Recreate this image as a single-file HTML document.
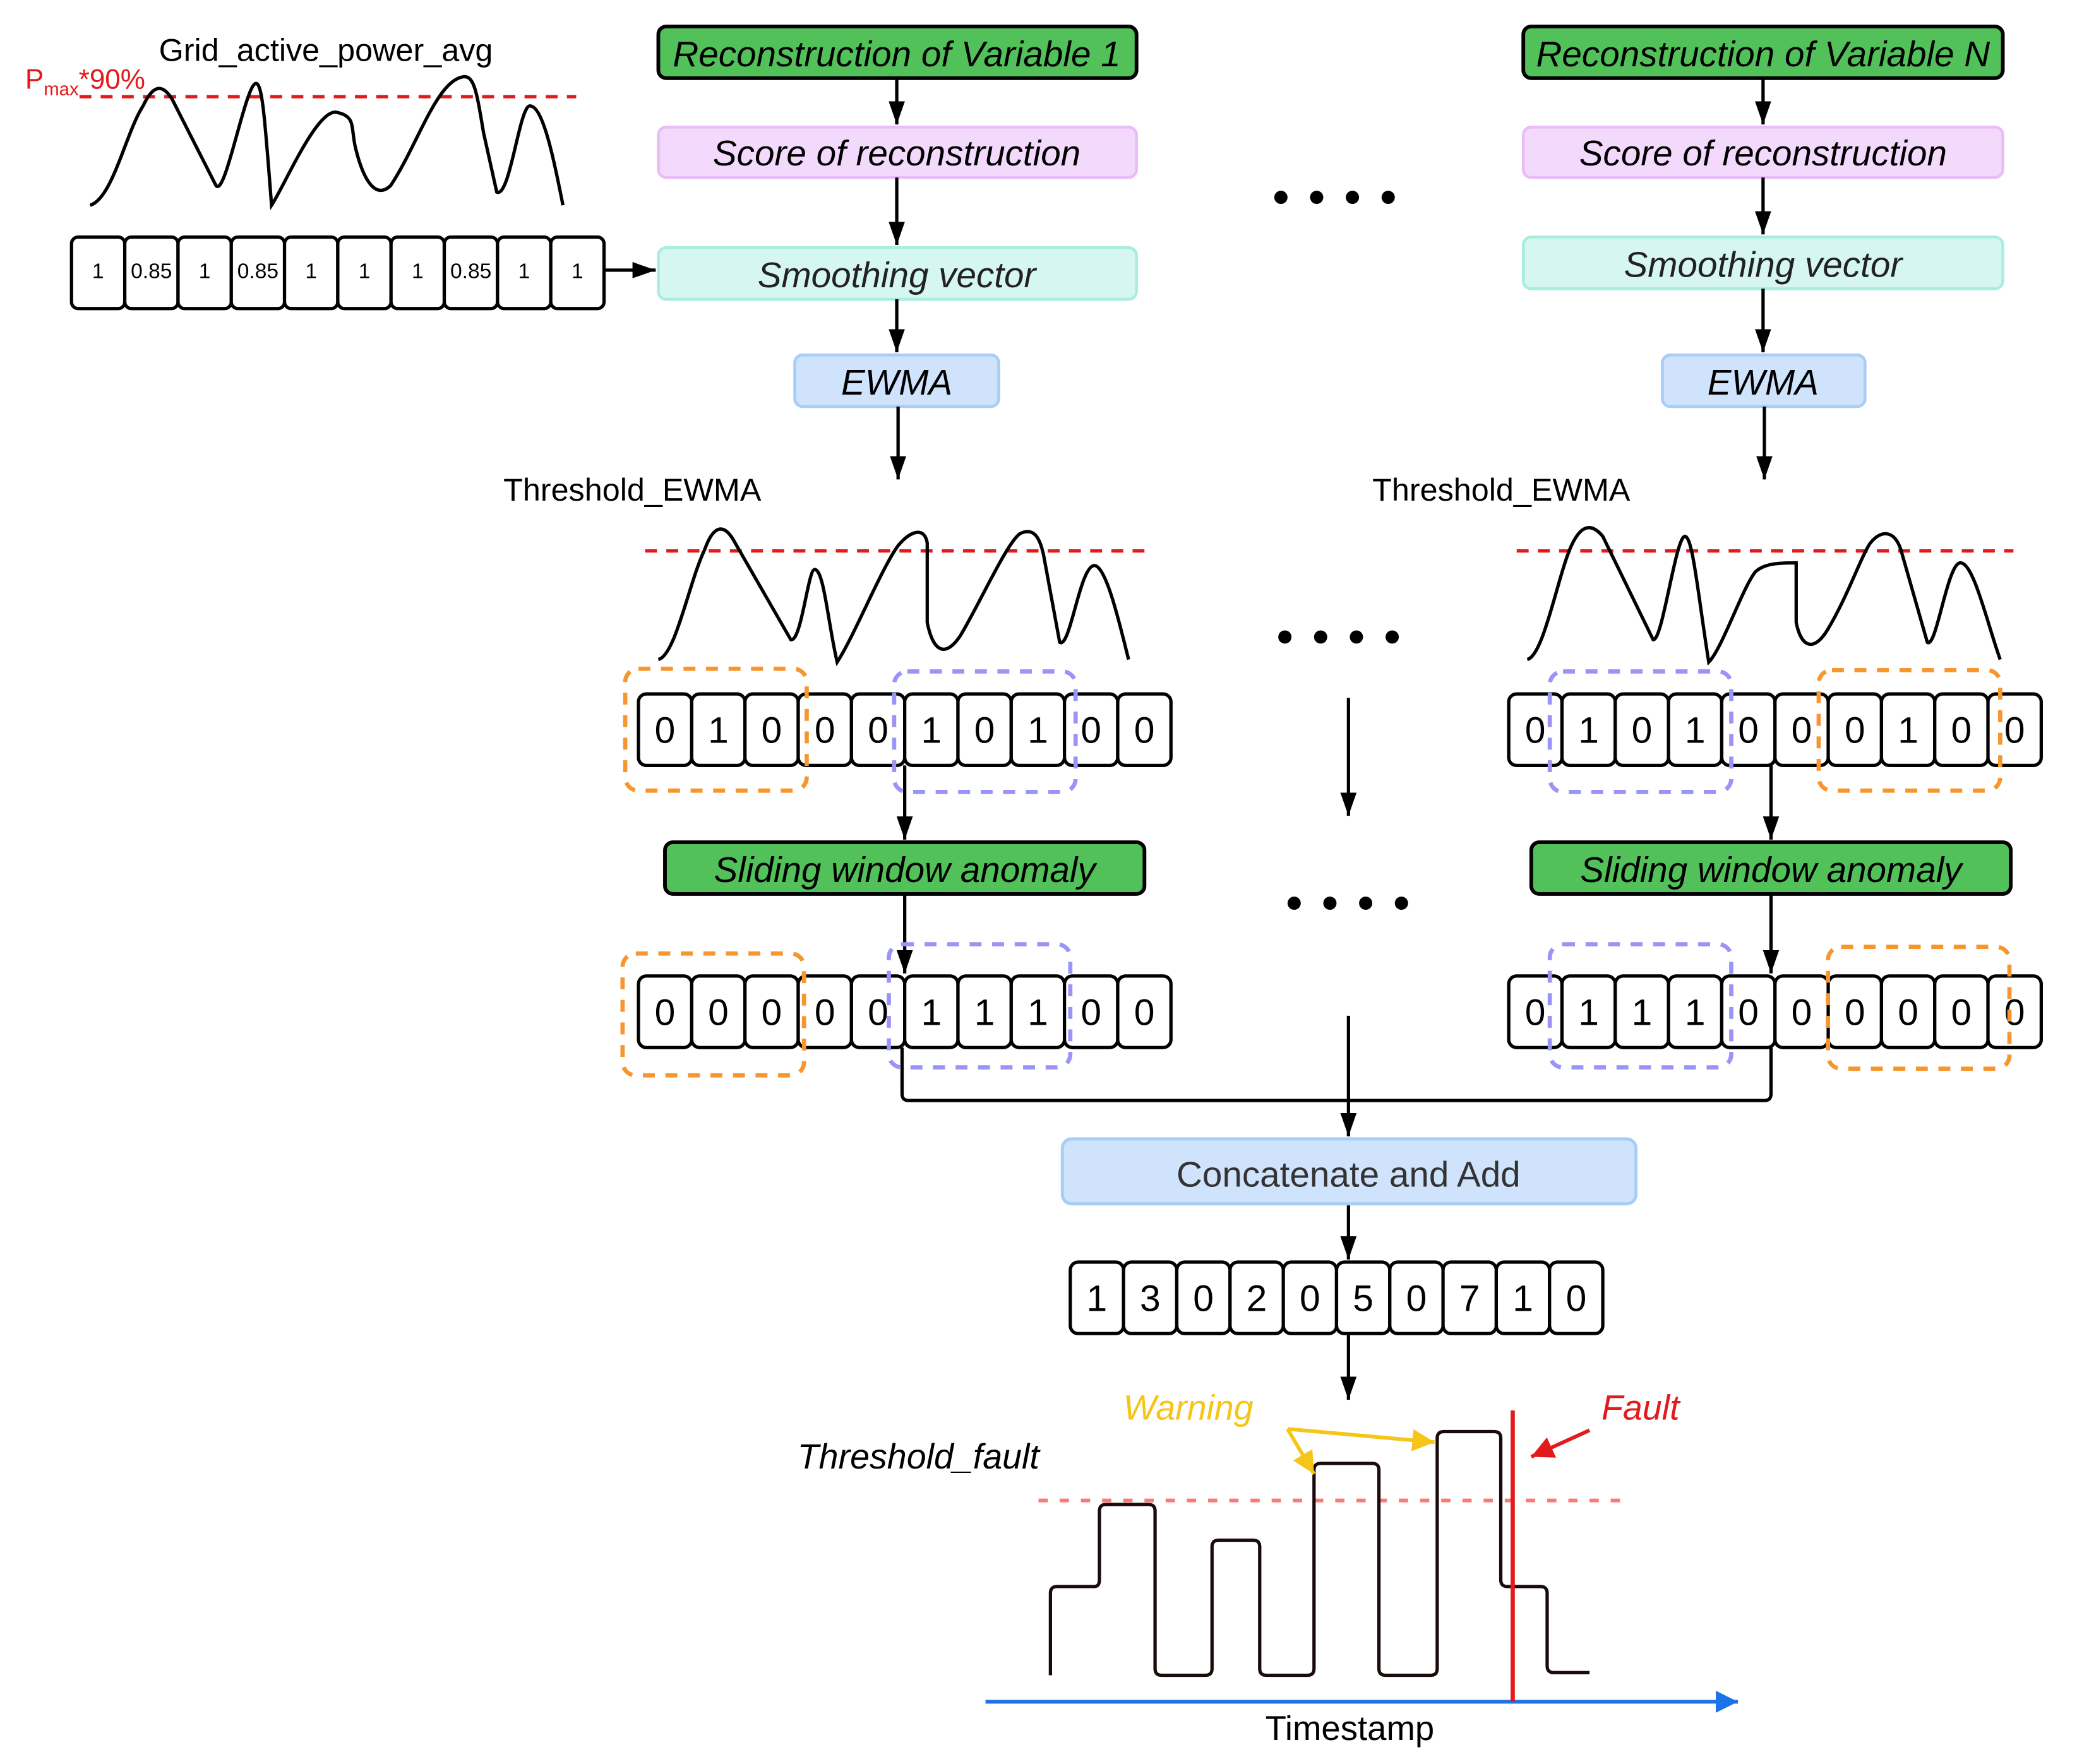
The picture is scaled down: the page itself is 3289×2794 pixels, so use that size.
<!DOCTYPE html>
<html><head><meta charset="utf-8"><style>html,body{margin:0;padding:0;background:#fff}svg{display:block}</style></head>
<body>
<svg xmlns="http://www.w3.org/2000/svg" width="3289" height="2794" viewBox="0 0 1568 1332" preserveAspectRatio="none" font-family="Liberation Sans, sans-serif">
<defs>
<marker id="a" viewBox="0 0 10 10" refX="10" refY="5" markerWidth="7" markerHeight="7" orient="auto" markerUnits="strokeWidth"><path d="M0,1.5 L10,5 L0,8.5 z" fill="#000"/></marker>
<marker id="y" viewBox="0 0 10 10" refX="10" refY="5" markerWidth="6" markerHeight="6" orient="auto" markerUnits="strokeWidth"><path d="M0,0 L10,5 L0,10 z" fill="#f5c518"/></marker>
<marker id="r" viewBox="0 0 10 10" refX="10" refY="5" markerWidth="6" markerHeight="6" orient="auto" markerUnits="strokeWidth"><path d="M0,0 L10,5 L0,10 z" fill="#e31a1c"/></marker>
<marker id="b" viewBox="0 0 10 10" refX="10" refY="5" markerWidth="6" markerHeight="6" orient="auto" markerUnits="strokeWidth"><path d="M0,0 L10,5 L0,10 z" fill="#1a73e8"/></marker>
</defs>
<rect width="1568" height="1332" fill="#fff"/>

<!-- Top-left chart -->
<text x="246" y="46" font-size="24" text-anchor="middle">Grid_active_power_avg</text>
<text x="19" y="67" font-size="21" fill="#e31a1c">P<tspan font-size="14" dy="5">max</tspan><tspan dy="-5">*90%</tspan></text>
<line x1="60" y1="73" x2="435" y2="73" stroke="#e31a1c" stroke-width="2.5" stroke-dasharray="9,7"/>
<path d="M68,155 C85,150 95,100 108,80 C115,65 122,62 130,75 L163,140 C170,150 185,65 193,63 C198,62 200,90 205,155 C215,140 240,80 255,85 C268,88 265,95 268,110 C275,140 285,150 295,140 C315,110 330,60 350,58 C358,57 360,70 365,100 L375,145 C385,150 392,80 400,80 C410,80 418,120 425,155" fill="none" stroke="#000" stroke-width="2.5"/>
<g stroke="#000" stroke-width="2.5" fill="#fff">
<rect x="54" y="179" width="40.2" height="54" rx="5"/><rect x="94.2" y="179" width="40.2" height="54" rx="5"/><rect x="134.4" y="179" width="40.2" height="54" rx="5"/><rect x="174.6" y="179" width="40.2" height="54" rx="5"/><rect x="214.8" y="179" width="40.2" height="54" rx="5"/><rect x="255" y="179" width="40.2" height="54" rx="5"/><rect x="295.2" y="179" width="40.2" height="54" rx="5"/><rect x="335.4" y="179" width="40.2" height="54" rx="5"/><rect x="375.6" y="179" width="40.2" height="54" rx="5"/><rect x="415.8" y="179" width="40.2" height="54" rx="5"/>
</g>
<g font-size="16" text-anchor="middle">
<text x="74" y="210">1</text><text x="114.3" y="210">0.85</text><text x="154.5" y="210">1</text><text x="194.7" y="210">0.85</text><text x="234.9" y="210">1</text><text x="275.1" y="210">1</text><text x="315.3" y="210">1</text><text x="355.5" y="210">0.85</text><text x="395.7" y="210">1</text><text x="435.9" y="210">1</text>
</g>
<line x1="456" y1="204" x2="495" y2="204" stroke="#000" stroke-width="2.5" marker-end="url(#a)"/>

<!-- boxes -->
<g font-size="27" font-style="italic" text-anchor="middle">
<rect x="497" y="20" width="361" height="39" rx="6" fill="#52c15a" stroke="#000" stroke-width="2.8"/>
<text x="677" y="50">Reconstruction of Variable 1</text>
<rect x="497" y="96" width="361" height="38" rx="6" fill="#f3d9fb" stroke="#e9bdf5" stroke-width="2.2"/>
<text x="677" y="125">Score of reconstruction</text>
<rect x="497" y="187" width="361" height="39" rx="6" fill="#d6f7f1" stroke="#a8eee0" stroke-width="2.2"/>
<text x="677" y="217" fill="#222">Smoothing vector</text>
<rect x="600" y="268" width="154" height="39" rx="6" fill="#cfe4fc" stroke="#a9cdf6" stroke-width="2.2"/>
<text x="677" y="298">EWMA</text>
<rect x="1150" y="20" width="362" height="39" rx="6" fill="#52c15a" stroke="#000" stroke-width="2.8"/>
<text x="1331" y="50">Reconstruction of Variable N</text>
<rect x="1150" y="96" width="362" height="38" rx="6" fill="#f3d9fb" stroke="#e9bdf5" stroke-width="2.2"/>
<text x="1331" y="125">Score of reconstruction</text>
<rect x="1150" y="179" width="362" height="39" rx="6" fill="#d6f7f1" stroke="#a8eee0" stroke-width="2.2"/>
<text x="1331" y="209" fill="#222">Smoothing vector</text>
<rect x="1255" y="268" width="153" height="39" rx="6" fill="#cfe4fc" stroke="#a9cdf6" stroke-width="2.2"/>
<text x="1331" y="298">EWMA</text>
<rect x="502" y="636" width="362" height="39" rx="6" fill="#52c15a" stroke="#000" stroke-width="2.8"/>
<text x="683" y="666">Sliding window anomaly</text>
<rect x="1156" y="636" width="362" height="39" rx="6" fill="#52c15a" stroke="#000" stroke-width="2.8"/>
<text x="1337" y="666">Sliding window anomaly</text>
</g>

<g stroke="#000" stroke-width="2.5" fill="none" marker-end="url(#a)">
<line x1="677" y1="59" x2="677" y2="94"/>
<line x1="677" y1="134" x2="677" y2="185"/>
<line x1="677" y1="226" x2="677" y2="266"/>
<line x1="678" y1="307" x2="678" y2="362"/>
<line x1="1331" y1="59" x2="1331" y2="94"/>
<line x1="1331" y1="134" x2="1331" y2="177"/>
<line x1="1331" y1="218" x2="1331" y2="266"/>
<line x1="1332" y1="307" x2="1332" y2="362"/>
<line x1="683" y1="578" x2="683" y2="634"/>
<line x1="1337" y1="578" x2="1337" y2="634"/>
<line x1="683" y1="675" x2="683" y2="735"/>
<line x1="1337" y1="675" x2="1337" y2="735"/>
<line x1="1018" y1="527" x2="1018" y2="616"/>
<line x1="1018" y1="767" x2="1018" y2="858"/>
<line x1="1018" y1="909" x2="1018" y2="951"/>
<line x1="1018" y1="1007" x2="1018" y2="1057"/>
</g>
<path d="M681,791 L681,826 Q681,831 686,831 L1332,831 Q1337,831 1337,826 L1337,791" fill="none" stroke="#000" stroke-width="2.5"/>

<g fill="#000">
<circle cx="967" cy="149" r="5"/><circle cx="994" cy="149" r="5"/><circle cx="1021" cy="149" r="5"/><circle cx="1048" cy="149" r="5"/>
<circle cx="970" cy="481" r="5"/><circle cx="997" cy="481" r="5"/><circle cx="1024" cy="481" r="5"/><circle cx="1051" cy="481" r="5"/>
<circle cx="977" cy="682" r="5"/><circle cx="1004" cy="682" r="5"/><circle cx="1031" cy="682" r="5"/><circle cx="1058" cy="682" r="5"/>
</g>

<text x="380" y="378" font-size="24">Threshold_EWMA</text>
<text x="1036" y="378" font-size="24">Threshold_EWMA</text>
<line x1="487" y1="416" x2="865" y2="416" stroke="#e31a1c" stroke-width="2.5" stroke-dasharray="9,7"/>
<line x1="1145" y1="416" x2="1520" y2="416" stroke="#e31a1c" stroke-width="2.5" stroke-dasharray="9,7"/>
<path d="M497,498 C510,495 520,440 532,415 C538,398 546,393 555,410 L597,483 C605,485 610,430 615,430 C622,430 625,470 632,500 C645,480 665,430 678,412 C688,400 698,398 700,410 L700,470 C705,495 715,495 725,480 C740,455 760,410 770,403 C780,398 785,405 788,420 L800,485 C808,490 815,428 826,427 C835,427 845,470 852,498" fill="none" stroke="#000" stroke-width="2.5"/>
<path d="M1153,498 C1165,495 1175,440 1185,415 C1192,398 1200,393 1210,405 L1248,483 C1255,485 1265,405 1272,405 C1278,405 1282,450 1290,500 C1300,490 1315,445 1325,432 C1332,425 1345,425 1356,425 L1356,470 C1360,490 1370,492 1380,475 C1395,450 1405,420 1412,410 C1420,400 1430,400 1435,415 L1455,485 C1462,490 1470,425 1480,425 C1490,425 1500,470 1510,498" fill="none" stroke="#000" stroke-width="2.5"/>

<g stroke="#000" stroke-width="2.5" fill="#fff">
<rect x="482" y="524" width="40.2" height="54" rx="6"/><rect x="522.2" y="524" width="40.2" height="54" rx="6"/><rect x="562.4" y="524" width="40.2" height="54" rx="6"/><rect x="602.6" y="524" width="40.2" height="54" rx="6"/><rect x="642.8" y="524" width="40.2" height="54" rx="6"/><rect x="683" y="524" width="40.2" height="54" rx="6"/><rect x="723.2" y="524" width="40.2" height="54" rx="6"/><rect x="763.4" y="524" width="40.2" height="54" rx="6"/><rect x="803.6" y="524" width="40.2" height="54" rx="6"/><rect x="843.8" y="524" width="40.2" height="54" rx="6"/>
<rect x="1139" y="524" width="40.2" height="54" rx="6"/><rect x="1179.2" y="524" width="40.2" height="54" rx="6"/><rect x="1219.4" y="524" width="40.2" height="54" rx="6"/><rect x="1259.6" y="524" width="40.2" height="54" rx="6"/><rect x="1299.8" y="524" width="40.2" height="54" rx="6"/><rect x="1340" y="524" width="40.2" height="54" rx="6"/><rect x="1380.2" y="524" width="40.2" height="54" rx="6"/><rect x="1420.4" y="524" width="40.2" height="54" rx="6"/><rect x="1460.6" y="524" width="40.2" height="54" rx="6"/><rect x="1500.8" y="524" width="40.2" height="54" rx="6"/>
<rect x="482" y="737" width="40.2" height="54" rx="6"/><rect x="522.2" y="737" width="40.2" height="54" rx="6"/><rect x="562.4" y="737" width="40.2" height="54" rx="6"/><rect x="602.6" y="737" width="40.2" height="54" rx="6"/><rect x="642.8" y="737" width="40.2" height="54" rx="6"/><rect x="683" y="737" width="40.2" height="54" rx="6"/><rect x="723.2" y="737" width="40.2" height="54" rx="6"/><rect x="763.4" y="737" width="40.2" height="54" rx="6"/><rect x="803.6" y="737" width="40.2" height="54" rx="6"/><rect x="843.8" y="737" width="40.2" height="54" rx="6"/>
<rect x="1139" y="737" width="40.2" height="54" rx="6"/><rect x="1179.2" y="737" width="40.2" height="54" rx="6"/><rect x="1219.4" y="737" width="40.2" height="54" rx="6"/><rect x="1259.6" y="737" width="40.2" height="54" rx="6"/><rect x="1299.8" y="737" width="40.2" height="54" rx="6"/><rect x="1340" y="737" width="40.2" height="54" rx="6"/><rect x="1380.2" y="737" width="40.2" height="54" rx="6"/><rect x="1420.4" y="737" width="40.2" height="54" rx="6"/><rect x="1460.6" y="737" width="40.2" height="54" rx="6"/><rect x="1500.8" y="737" width="40.2" height="54" rx="6"/>
<rect x="808" y="953" width="40.2" height="54" rx="6"/><rect x="848.2" y="953" width="40.2" height="54" rx="6"/><rect x="888.4" y="953" width="40.2" height="54" rx="6"/><rect x="928.6" y="953" width="40.2" height="54" rx="6"/><rect x="968.8" y="953" width="40.2" height="54" rx="6"/><rect x="1009" y="953" width="40.2" height="54" rx="6"/><rect x="1049.2" y="953" width="40.2" height="54" rx="6"/><rect x="1089.4" y="953" width="40.2" height="54" rx="6"/><rect x="1129.6" y="953" width="40.2" height="54" rx="6"/><rect x="1169.8" y="953" width="40.2" height="54" rx="6"/>
</g>
<g font-size="28" text-anchor="middle">
<text x="502" y="561">0</text><text x="542.3" y="561">1</text><text x="582.5" y="561">0</text><text x="622.7" y="561">0</text><text x="662.9" y="561">0</text><text x="703.1" y="561">1</text><text x="743.3" y="561">0</text><text x="783.5" y="561">1</text><text x="823.7" y="561">0</text><text x="863.9" y="561">0</text>
<text x="1159" y="561">0</text><text x="1199.3" y="561">1</text><text x="1239.5" y="561">0</text><text x="1279.7" y="561">1</text><text x="1319.9" y="561">0</text><text x="1360.1" y="561">0</text><text x="1400.3" y="561">0</text><text x="1440.5" y="561">1</text><text x="1480.7" y="561">0</text><text x="1520.9" y="561">0</text>
<text x="502" y="774">0</text><text x="542.3" y="774">0</text><text x="582.5" y="774">0</text><text x="622.7" y="774">0</text><text x="662.9" y="774">0</text><text x="703.1" y="774">1</text><text x="743.3" y="774">1</text><text x="783.5" y="774">1</text><text x="823.7" y="774">0</text><text x="863.9" y="774">0</text>
<text x="1159" y="774">0</text><text x="1199.3" y="774">1</text><text x="1239.5" y="774">1</text><text x="1279.7" y="774">1</text><text x="1319.9" y="774">0</text><text x="1360.1" y="774">0</text><text x="1400.3" y="774">0</text><text x="1440.5" y="774">0</text><text x="1480.7" y="774">0</text><text x="1520.9" y="774">0</text>
<text x="828" y="990">1</text><text x="868.3" y="990">3</text><text x="908.5" y="990">0</text><text x="948.7" y="990">2</text><text x="988.9" y="990">0</text><text x="1029.1" y="990">5</text><text x="1069.3" y="990">0</text><text x="1109.5" y="990">7</text><text x="1149.7" y="990">1</text><text x="1189.9" y="990">0</text>
</g>

<g fill="none" stroke-width="3.2" stroke-dasharray="9,8">
<rect x="472" y="505" width="137" height="92" rx="10" stroke="#f7962f"/>
<rect x="675" y="507" width="137" height="91" rx="10" stroke="#9a94f7"/>
<rect x="1170" y="507" width="137" height="91" rx="10" stroke="#9a94f7"/>
<rect x="1373" y="506" width="137" height="91" rx="10" stroke="#f7962f"/>
<rect x="470" y="720" width="137" height="92" rx="10" stroke="#f7962f"/>
<rect x="671" y="713" width="137" height="93" rx="10" stroke="#9a94f7"/>
<rect x="1170" y="713" width="137" height="93" rx="10" stroke="#9a94f7"/>
<rect x="1380" y="715" width="137" height="92" rx="10" stroke="#f7962f"/>
</g>

<rect x="802" y="860" width="433" height="49" rx="7" fill="#cfe4fc" stroke="#a9cdf6" stroke-width="2.4"/>
<text x="1018" y="896" font-size="27" text-anchor="middle" fill="#333">Concatenate and Add</text>

<text x="848" y="1072" font-size="26.5" font-style="italic" fill="#f5c518">Warning</text>
<text x="1209" y="1072" font-size="26.5" font-style="italic" fill="#e31a1c">Fault</text>
<text x="602" y="1109" font-size="26.5" font-style="italic">Threshold_fault</text>
<line x1="784" y1="1133" x2="1228" y2="1133" stroke="#f77" stroke-width="2.8" stroke-dasharray="7,9"/>
<path d="M793,1265 L793,1203 Q793,1198 798,1198 L826,1198 Q830,1198 830,1193 L830,1141 Q830,1136 835,1136 L867,1136 Q872,1136 872,1141 L872,1260 Q872,1265 877,1265 L910,1265 Q915,1265 915,1260 L915,1168 Q915,1163 920,1163 L946,1163 Q951,1163 951,1168 L951,1260 Q951,1265 956,1265 L987,1265 Q992,1265 992,1260 L992,1110 Q992,1105 997,1105 L1036,1105 Q1041,1105 1041,1110 L1041,1260 Q1041,1265 1046,1265 L1080,1265 Q1085,1265 1085,1260 L1085,1086 Q1085,1081 1090,1081 L1128,1081 Q1133,1081 1133,1086 L1133,1193 Q1133,1198 1138,1198 L1163,1198 Q1168,1198 1168,1203 L1168,1258 Q1168,1263 1173,1263 L1200,1263" fill="none" stroke="#1a0a0a" stroke-width="2.5"/>
<line x1="744" y1="1285" x2="1312" y2="1285" stroke="#1a73e8" stroke-width="2.8" marker-end="url(#b)"/>
<line x1="1142" y1="1065" x2="1142" y2="1285" stroke="#e31a1c" stroke-width="3.2"/>
<line x1="972" y1="1079" x2="1083" y2="1089" stroke="#f5c518" stroke-width="2.8" marker-end="url(#y)"/>
<line x1="972" y1="1079" x2="992" y2="1113" stroke="#f5c518" stroke-width="2.8" marker-end="url(#y)"/>
<line x1="1200" y1="1080" x2="1156" y2="1100" stroke="#e31a1c" stroke-width="2.8" marker-end="url(#r)"/>
<text x="1019" y="1314" font-size="26" text-anchor="middle">Timestamp</text>
</svg>
</body></html>
